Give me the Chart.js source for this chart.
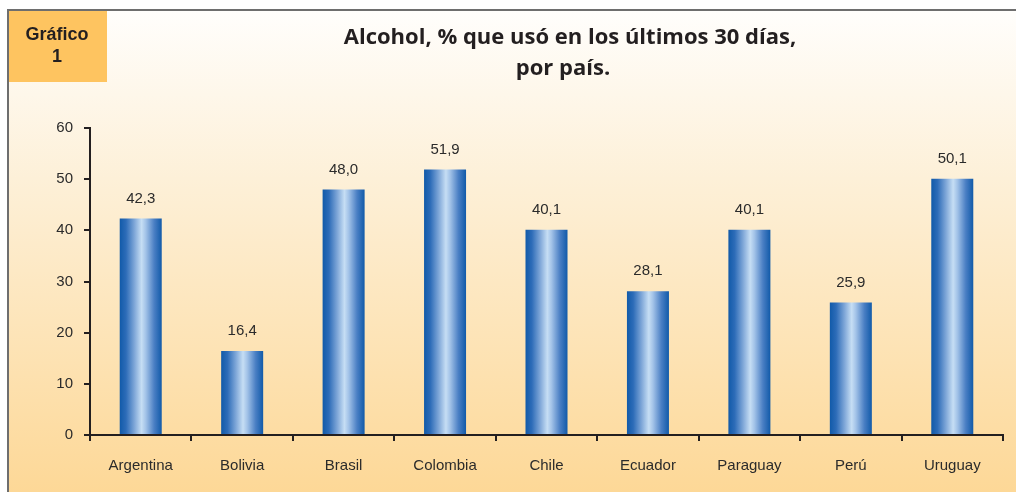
<!DOCTYPE html>
<html>
<head>
<meta charset="utf-8">
<script src="https://cdn.jsdelivr.net/npm/chart.js@4"></script>
<style>
  html, body { margin: 0; padding: 0; background: #ffffff; }
  #wrap { position: relative; width: 1016px; height: 492px; }
</style>
</head>
<body>
<div id="wrap"><canvas id="chart" width="1016" height="492"></canvas></div>
<script>
const countries = ['Argentina', 'Bolivia', 'Brasil', 'Colombia', 'Chile', 'Ecuador', 'Paraguay', 'Perú', 'Uruguay'];
const alcoholPct = [42.3, 16.4, 48.0, 51.9, 40.1, 28.1, 40.1, 25.9, 50.1];
const yTicks = [0, 10, 20, 30, 40, 50, 60];
const titleLines = ['Alcohol, % que usó en los últimos 30 días,', 'por país.'];
const badgeLines = ['Gráfico', '1'];

const BAR_PCT = 0.414;
const FONT = '"Liberation Sans", Arial, sans-serif';

// frame, badge and title behind the chart
const framePlugin = {
  id: 'frame',
  beforeDraw(chart) {
    const ctx = chart.ctx;
    ctx.save();
    const bg = ctx.createLinearGradient(0, 10, 0, 492);
    bg.addColorStop(0, '#fffefc');
    bg.addColorStop(0.35, '#fdf0d8');
    bg.addColorStop(1, '#fdd897');
    ctx.fillStyle = bg;
    ctx.fillRect(8, 10, 1008, 482);

    ctx.fillStyle = '#6e6e6e';
    ctx.fillRect(7, 9, 1009, 2);
    ctx.fillRect(7, 9, 2, 483);

    ctx.fillStyle = '#fec460';
    ctx.fillRect(9, 11, 98, 71);
    ctx.fillStyle = '#231f20';
    ctx.font = 'bold 18px ' + FONT;
    ctx.textAlign = 'center';
    ctx.textBaseline = 'middle';
    ctx.fillText(badgeLines[0], 57, 35);
    ctx.fillText(badgeLines[1], 57, 57);

    ctx.font = 'bold 22px "Open Sans", Lato, sans-serif';
    ctx.fillText(titleLines[0], 570, 38);
    ctx.fillText(titleLines[1], 563, 69);
    ctx.restore();
  }
};

// value labels with comma decimals
const valueLabels = {
  id: 'valueLabels',
  afterDatasetsDraw(chart) {
    const ctx = chart.ctx;
    const meta = chart.getDatasetMeta(0);
    ctx.save();
    ctx.font = '15px ' + FONT;
    ctx.fillStyle = '#2b2b2b';
    ctx.textAlign = 'center';
    ctx.textBaseline = 'middle';
    meta.data.forEach((bar, i) => {
      ctx.fillText(alcoholPct[i].toFixed(1).replace('.', ','), bar.x, bar.y - 20);
    });
    ctx.restore();
  }
};

function barGradient(context) {
  const chart = context.chart;
  const xs = chart.scales.x;
  if (!xs || context.dataIndex === undefined) return '#1a5fae';
  const cx = xs.getPixelForValue(context.dataIndex);
  const half = (xs.width / countries.length) * BAR_PCT / 2;
  if (!isFinite(cx) || !isFinite(half) || half <= 0) return '#1a5fae';
  const g = chart.ctx.createLinearGradient(cx - half, 0, cx + half, 0);
  g.addColorStop(0, '#115aa9');
  g.addColorStop(0.15, '#2d6cb8');
  g.addColorStop(0.35, '#7fa7d8');
  g.addColorStop(0.52, '#c6def4');
  g.addColorStop(0.62, '#a3c3e8');
  g.addColorStop(0.82, '#4a7fc4');
  g.addColorStop(1, '#115aa9');
  return g;
}

new Chart(document.getElementById('chart'), {
  type: 'bar',
  data: {
    labels: countries,
    datasets: [{
      data: alcoholPct,
      backgroundColor: barGradient,
      borderWidth: 0,
      barPercentage: BAR_PCT,
      categoryPercentage: 1
    }]
  },
  options: {
    responsive: false,
    animation: false,
    layout: { padding: { top: 128, right: 13, left: 0, bottom: 0 } },
    plugins: {
      legend: { display: false },
      tooltip: { enabled: false },
      title: { display: false }
    },
    scales: {
      x: {
        offset: true,
        afterFit(scale) { scale.height = 57; },
        border: { color: '#231f20', width: 2 },
        grid: { offset: true, drawOnChartArea: false, tickLength: 6, color: '#231f20', lineWidth: 2 },
        ticks: {
          color: '#2b2b2b',
          padding: 16,
          font: { family: FONT, size: 15 }
        }
      },
      y: {
        min: 0,
        max: 60,
        afterFit(scale) { scale.width = 90; },
        afterBuildTicks(scale) { scale.ticks = yTicks.map(v => ({ value: v })); },
        border: { color: '#231f20', width: 2 },
        grid: { drawOnChartArea: false, tickLength: 6, color: '#231f20', lineWidth: 2 },
        ticks: {
          color: '#2b2b2b',
          padding: 11,
          font: { family: FONT, size: 15 }
        }
      }
    }
  },
  plugins: [framePlugin, valueLabels]
});
</script>
</body>
</html>
